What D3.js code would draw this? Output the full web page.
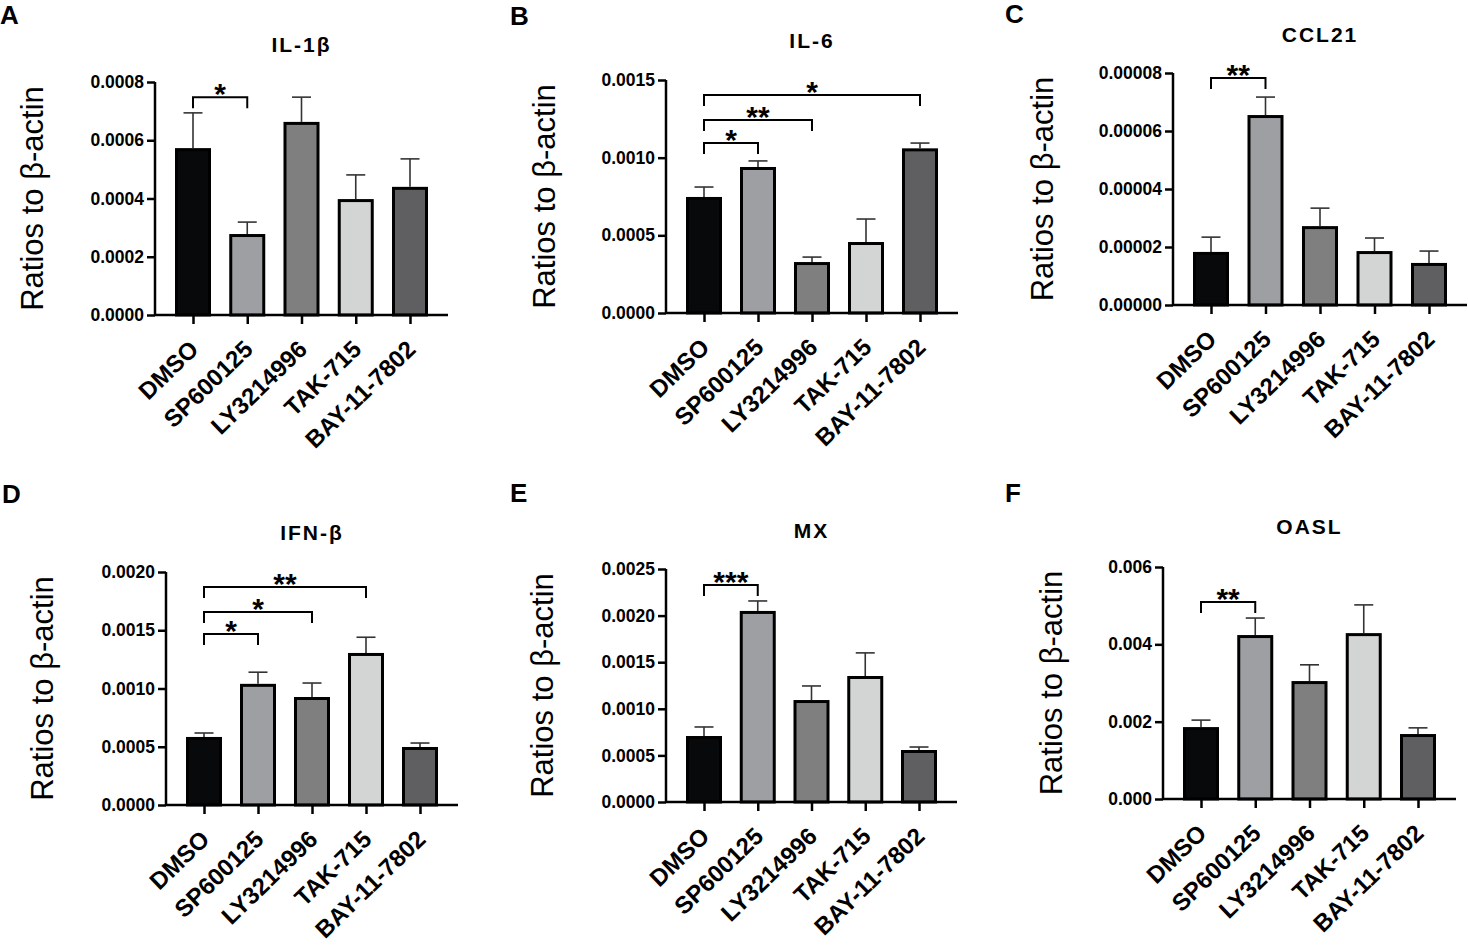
<!DOCTYPE html>
<html>
<head>
<meta charset="utf-8">
<script src="https://cdn.jsdelivr.net/npm/d3@7"></script>
<style>
  html, body { margin: 0; padding: 0; background: #fff; }
  svg { display: block; font-family: "Liberation Sans", Arial, Helvetica, sans-serif; }
</style>
</head>
<body>
<svg id="fig" width="1468" height="947"></svg>
<script>
// ---------------- DATA ----------------
const categories = ["DMSO", "SP600125", "LY3214996", "TAK-715", "BAY-11-7802"];
const yAxisTitle = "Ratios to β-actin";

const panelLetters = ["A", "B", "C", "D", "E", "F"];
const panelTitles = ["IL-1β", "IL-6", "CCL21", "IFN-β", "MX", "OASL"];

// means (bar heights)
const il1bMean = [0.000573, 0.000278, 0.000663, 0.000398, 0.000440];
const il6Mean  = [0.000747, 0.000940, 0.000328, 0.000457, 0.001060];
const ccl21Mean = [0.0000183, 0.0000655, 0.0000272, 0.0000186, 0.0000145];
const ifnbMean = [0.000584, 0.001040, 0.000927, 0.001305, 0.000498];
const mxMean   = [0.000708, 0.002050, 0.001094, 0.001352, 0.000558];
const oaslMean = [0.00186, 0.00424, 0.00305, 0.00429, 0.00168];

// SEM (upper error bars)
const il1bSem = [0.000121, 0.000041, 0.000085, 0.000083, 0.000096];
const il6Sem  = [0.000064, 0.000039, 0.000032, 0.000148, 0.000034];
const ccl21Sem = [0.0000051, 0.0000062, 0.0000062, 0.0000045, 0.0000041];
const ifnbSem = [0.000034, 0.000100, 0.000120, 0.000135, 0.000034];
const mxSem   = [0.000097, 0.000107, 0.000151, 0.000248, 0.000032];
const oaslSem = [0.00018, 0.00044, 0.00042, 0.00073, 0.00016];

// y tick values and labels
const il1bTicks = [0, 0.0002, 0.0004, 0.0006, 0.0008];
const il1bTickLabels = ["0.0000", "0.0002", "0.0004", "0.0006", "0.0008"];
const il6Ticks = [0, 0.0005, 0.0010, 0.0015];
const il6TickLabels = ["0.0000", "0.0005", "0.0010", "0.0015"];
const ccl21Ticks = [0, 0.00002, 0.00004, 0.00006, 0.00008];
const ccl21TickLabels = ["0.00000", "0.00002", "0.00004", "0.00006", "0.00008"];
const ifnbTicks = [0, 0.0005, 0.0010, 0.0015, 0.0020];
const ifnbTickLabels = ["0.0000", "0.0005", "0.0010", "0.0015", "0.0020"];
const mxTicks = [0, 0.0005, 0.0010, 0.0015, 0.0020, 0.0025];
const mxTickLabels = ["0.0000", "0.0005", "0.0010", "0.0015", "0.0020", "0.0025"];
const oaslTicks = [0, 0.002, 0.004, 0.006];
const oaslTickLabels = ["0.000", "0.002", "0.004", "0.006"];

// significance brackets: [fromIndex, toIndex, level (data units), label]
const il1bSig = [[0, 1, 0.000748, "*"]];
const il6Sig = [[0, 1, 0.001094, "*"], [0, 2, 0.001242, "**"], [0, 4, 0.001403, "*"]];
const ccl21Sig = [[0, 1, 0.0000783, "**"]];
const ifnbSig = [[0, 1, 0.001468, "*"], [0, 2, 0.001657, "*"], [0, 3, 0.001871, "**"]];
const mxSig = [[0, 1, 0.002328, "***"]];
const oaslSig = [[0, 1, 0.005095, "**"]];

// ---------------- STYLE / LAYOUT ----------------
const barColors = ["#08090a", "#9e9fa3", "#7e7f7e", "#d3d5d4", "#5f5f61"];

const panels = [
  { mean: il1bMean, sem: il1bSem, ticks: il1bTicks, tickLabels: il1bTickLabels, sig: il1bSig,
    layout: { lx: 0, ly: 24, ax: 155, top: 82, bottom: 315, right: 448, titleY: 52, yTitleX: 43 } },
  { mean: il6Mean, sem: il6Sem, ticks: il6Ticks, tickLabels: il6TickLabels, sig: il6Sig,
    layout: { lx: 510, ly: 25, ax: 666, top: 80, bottom: 313, right: 958, titleY: 48, yTitleX: 555 } },
  { mean: ccl21Mean, sem: ccl21Sem, ticks: ccl21Ticks, tickLabels: ccl21TickLabels, sig: ccl21Sig,
    layout: { lx: 1005, ly: 23, ax: 1173, top: 73, bottom: 305, right: 1467, titleY: 42, yTitleX: 1053 } },
  { mean: ifnbMean, sem: ifnbSem, ticks: ifnbTicks, tickLabels: ifnbTickLabels, sig: ifnbSig,
    layout: { lx: 2, ly: 503, ax: 166, top: 572, bottom: 805, right: 458, titleY: 540, yTitleX: 53 } },
  { mean: mxMean, sem: mxSem, ticks: mxTicks, tickLabels: mxTickLabels, sig: mxSig,
    layout: { lx: 510, ly: 502, ax: 666, top: 569, bottom: 802, right: 957, titleY: 538, yTitleX: 553 } },
  { mean: oaslMean, sem: oaslSem, ticks: oaslTicks, tickLabels: oaslTickLabels, sig: oaslSig,
    layout: { lx: 1005, ly: 502, ax: 1163, top: 567, bottom: 799, right: 1456, titleY: 534, yTitleX: 1062 } }
];

const svg = d3.select("#fig");

panels.forEach((p, pi) => {
  const L = p.layout;
  const g = svg.append("g");

  const x = d3.scalePoint().domain(categories).range([L.ax + 38, L.right - 38]);
  const y = d3.scaleLinear().domain([0, p.ticks[p.ticks.length - 1]]).range([L.bottom, L.top]);
  const barW = 33;

  // panel letter
  g.append("text").attr("x", L.lx).attr("y", L.ly)
    .attr("font-size", 26).attr("font-weight", "bold").text(panelLetters[pi]);

  // title
  g.append("text").attr("x", (L.ax + L.right) / 2).attr("y", L.titleY)
    .attr("text-anchor", "middle").attr("font-size", 21).attr("font-weight", "bold")
    .attr("letter-spacing", 2).text(panelTitles[pi]);

  // y title
  g.append("text")
    .attr("transform", `translate(${L.yTitleX},${(L.top + L.bottom) / 2}) rotate(-90)`)
    .attr("text-anchor", "middle").attr("font-size", 31).text(yAxisTitle);

  // error bars (behind bars)
  const eb = g.append("g").attr("stroke", "#333").attr("stroke-width", 1.6).attr("fill", "none");
  categories.forEach((c, i) => {
    const cx = x(c);
    const yt = y(p.mean[i] + p.sem[i]);
    eb.append("line").attr("x1", cx).attr("x2", cx).attr("y1", y(p.mean[i])).attr("y2", yt);
    eb.append("line").attr("x1", cx - 9.5).attr("x2", cx + 9.5).attr("y1", yt).attr("y2", yt);
  });

  // bars
  g.append("g").selectAll("rect").data(categories).join("rect")
    .attr("x", d => x(d) - barW / 2)
    .attr("y", (d, i) => y(p.mean[i]) + 1.5)
    .attr("width", barW)
    .attr("height", (d, i) => y(0) - y(p.mean[i]) - 1.5)
    .attr("fill", (d, i) => barColors[i])
    .attr("stroke", "#000").attr("stroke-width", 3);

  // y axis
  const yAxis = d3.axisLeft(y).tickValues(p.ticks).tickSize(8).tickPadding(3)
    .tickFormat((d, i) => p.tickLabels[i]);
  const ya = g.append("g").attr("transform", `translate(${L.ax},0)`).call(yAxis);
  ya.select(".domain").attr("stroke-width", 2.5).attr("d", `M0,${L.top}V${L.bottom}`);
  ya.selectAll(".tick line").attr("stroke-width", 2.5);
  ya.selectAll(".tick text").attr("font-size", 17.5).attr("font-weight", "bold")
    .attr("font-family", null).attr("fill", "#000");

  // x axis
  const xAxis = d3.axisBottom(x).tickSize(9).tickFormat("");
  const xa = g.append("g").attr("transform", `translate(0,${L.bottom})`).call(xAxis);
  xa.select(".domain").attr("stroke-width", 2.5).attr("d", `M${L.ax},0H${L.right}`);
  xa.selectAll(".tick line").attr("stroke-width", 2.5);

  // rotated category labels
  g.append("g").selectAll("text").data(categories).join("text")
    .attr("transform", d => `translate(${x(d) + 7},${L.bottom + 36}) rotate(-44)`)
    .attr("text-anchor", "end").attr("font-size", 24).attr("font-weight", "bold")
    .text(d => d);

  // significance brackets
  const sg = g.append("g");
  p.sig.forEach(s => {
    const x1 = x(categories[s[0]]), x2 = x(categories[s[1]]);
    const yy = y(s[2]);
    sg.append("path")
      .attr("d", `M${x1},${yy + 11}V${yy}H${x2}V${yy + 11}`)
      .attr("fill", "none").attr("stroke", "#000").attr("stroke-width", 2);
    sg.append("text").attr("x", (x1 + x2) / 2).attr("y", yy + 7)
      .attr("text-anchor", "middle").attr("font-size", 30).attr("font-weight", "bold")
      .text(s[3]);
  });
});
</script>
</body>
</html>
